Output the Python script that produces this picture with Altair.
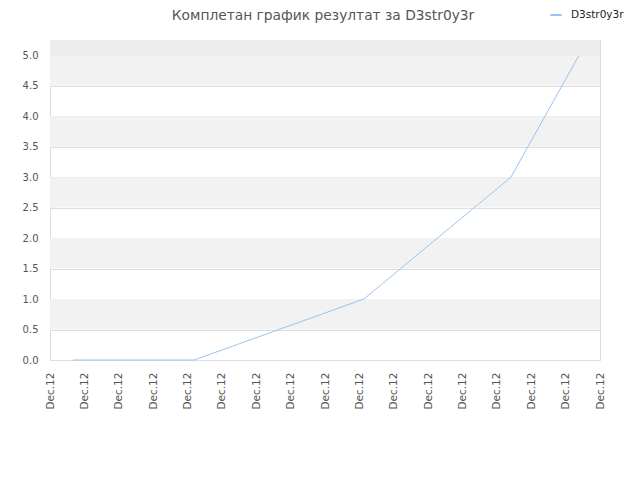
import altair as alt
import pandas as pd

# data
x_pos = [0.67, 4.19, 9.13, 13.41, 15.39]
y_val = [0.0, 0.0, 1.0, 3.0, 5.0]
series = "D3str0y3r"
title_text = "Комплетан график резултат за D3str0y3r"
tick_positions = list(range(17))
tick_label = "Dec.12"
y_ticks = [0, 0.5, 1, 1.5, 2, 2.5, 3, 3.5, 4, 4.5, 5]
band_lo = [0.5, 1.5, 2.5, 3.5, 4.5]
band_hi = [1.0, 2.0, 3.0, 4.0, 5.0]

line_df = pd.DataFrame({"x": x_pos, "y": y_val, "s": [series] * len(x_pos)})
band_df = pd.DataFrame({"lo": band_lo, "hi": band_hi})
top_df = pd.DataFrame({"lo": [5.0], "hi": [5.25]})
title_df = pd.DataFrame({"t": [title_text]})

xscale = alt.Scale(domain=[0, 16], nice=False, zero=False)
yscale = alt.Scale(domain=[0, 5.25], nice=False)
y_axis = alt.Axis(values=y_ticks, format=".1f", labelFontSize=10, labelColor="#555555",
                  labelFont="DejaVu Sans", grid=True, gridColor="#dedede",
                  ticks=False, domain=False, labelPadding=12)

bands = alt.Chart(band_df).mark_rect(color="#f2f2f2").encode(
    y=alt.Y("lo:Q", scale=yscale, axis=y_axis, title=None),
    y2="hi:Q",
    x=alt.value(0),
    x2=alt.value(550),
)
top = alt.Chart(top_df).mark_rect(color="#ececec").encode(
    y=alt.Y("lo:Q", scale=yscale, axis=y_axis, title=None),
    y2="hi:Q",
    x=alt.value(0),
    x2=alt.value(550),
)

line = alt.Chart(line_df).mark_line(strokeWidth=1).encode(
    x=alt.X("x:Q", scale=xscale, title=None,
            axis=alt.Axis(values=tick_positions, labelExpr=f"'{tick_label}'",
                          labelAngle=270, labelAlign="right", labelBaseline="middle",
                          labelPadding=12, labelFontSize=10.5, labelColor="#555555",
                          labelFont="DejaVu Sans", grid=False, ticks=False, domain=False,
                          labelOverlap=False, labelFlush=False)),
    y=alt.Y("y:Q", scale=yscale, title=None, axis=y_axis),
    color=alt.Color("s:N", scale=alt.Scale(range=["#99c4f2"]),
                    legend=alt.Legend(title=None, orient="none", legendX=499, legendY=-32,
                                      symbolType="stroke", symbolSize=130, symbolStrokeWidth=2,
                                      labelOffset=8, labelFontSize=10.5, labelFont="DejaVu Sans",
                                      labelColor="#222222")),
)

title = alt.Chart(title_df).mark_text(
    font="DejaVu Sans", fontSize=13.8, color="#555555", align="center", baseline="middle"
).encode(text="t:N", x=alt.value(273), y=alt.value(-24))

chart = alt.layer(top, bands, line, title).properties(
    width=550, height=320,
    padding={"left": 42, "top": 32, "right": 32, "bottom": 112},
    autosize=alt.AutoSizeParams(type="none"),
).configure_view(stroke="#dddddd", strokeWidth=1)

chart.save("out.html", embed_options={"renderer": "svg", "actions": False})
